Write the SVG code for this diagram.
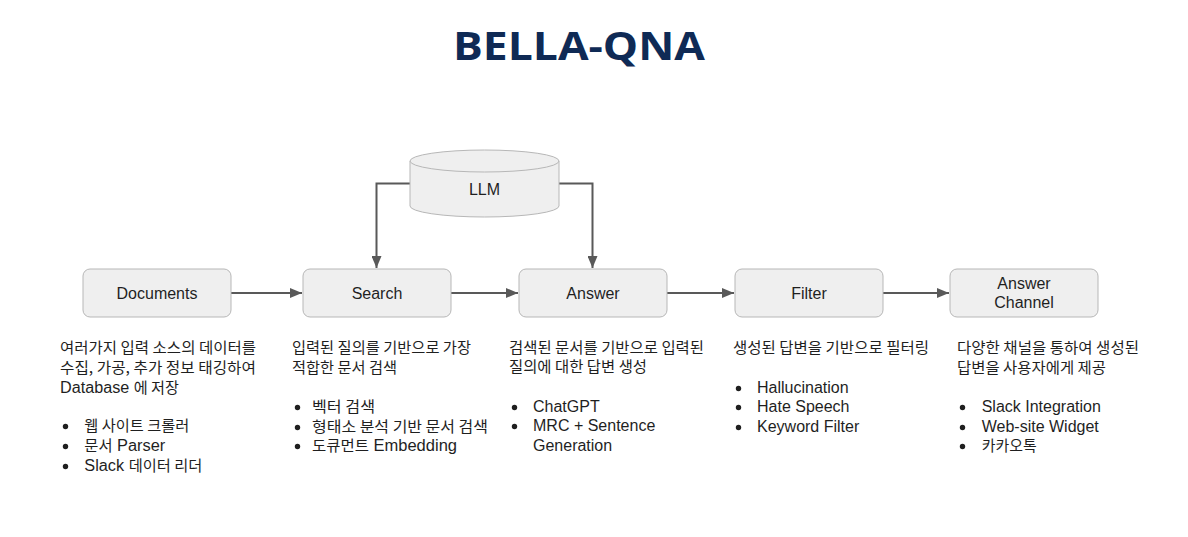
<svg xmlns="http://www.w3.org/2000/svg" width="1188" height="537" viewBox="0 0 1188 537">
<style>
.bg{fill:#ffffff}
.box{fill:#efefef;stroke:#b7b7b7;stroke-width:1}
.lbl{font-family:"Liberation Sans","Noto Sans CJK KR",Arial,sans-serif;font-size:16px;fill:#1f1f1f;text-anchor:middle}
.t{font-family:"Liberation Sans","Noto Sans CJK KR",Arial,sans-serif;font-size:16px;fill:#1f1f1f}
.k{font-family:"Noto Sans CJK KR","Liberation Sans",sans-serif;font-size:15px}
.dot{fill:#1f1f1f}
.conn{fill:none;stroke:#595959;stroke-width:2}
.title{font-family:"Open Sans","Liberation Sans",sans-serif;font-weight:700;font-size:40px;fill:#0f2a55}
</style>
<defs>
<marker id="arr" markerUnits="userSpaceOnUse" markerWidth="12" markerHeight="10" refX="12" refY="5" orient="auto">
<path d="M0,0 L12,5 L0,10 Z" fill="#595959"/>
</marker>
</defs>
<rect class="bg" x="0" y="0" width="1188" height="537"/>

<text id="title" class="title" x="453" y="60" textLength="252" lengthAdjust="spacingAndGlyphs">BELLA-QNA</text>

<g id="connectors">
<path class="conn" d="M231,293 H302" marker-end="url(#arr)"/>
<path class="conn" d="M451,293 H518" marker-end="url(#arr)"/>
<path class="conn" d="M667,293 H734" marker-end="url(#arr)"/>
<path class="conn" d="M883,293 H949" marker-end="url(#arr)"/>
<path class="conn" d="M410,183.5 H376.5 V268" marker-end="url(#arr)"/>
<path class="conn" d="M559,183.5 H592.5 V268" marker-end="url(#arr)"/>
</g>

<g id="llm">
<path class="box" d="M410,161 V206 A74.5,11 0 0 0 559,206 V161 Z"/>
<ellipse class="box" cx="484.5" cy="161" rx="74.5" ry="11"/>
<text class="lbl" x="484.5" y="195">LLM</text>
</g>

<g id="documents">
<rect class="box" x="83" y="269" width="148" height="48" rx="7"/>
<text class="lbl" x="157" y="299">Documents</text>
</g>
<g id="search">
<rect class="box" x="303" y="269" width="148" height="48" rx="7"/>
<text class="lbl" x="377" y="299">Search</text>
</g>
<g id="answer">
<rect class="box" x="519" y="269" width="148" height="48" rx="7"/>
<text class="lbl" x="593" y="299">Answer</text>
</g>
<g id="filter">
<rect class="box" x="735" y="269" width="148" height="48" rx="7"/>
<text class="lbl" x="809" y="299">Filter</text>
</g>
<g id="answer-channel">
<rect class="box" x="950" y="269" width="148" height="48" rx="7"/>
<text class="lbl" x="1024" y="289">Answer</text>
<text class="lbl" x="1024" y="308">Channel</text>
</g>

<g id="desc-documents">
<text class="t k" x="60" y="353" textLength="196" lengthAdjust="spacingAndGlyphs">여러가지 입력 소스의 데이터를</text>
<text class="t k" x="60" y="373" textLength="196" lengthAdjust="spacingAndGlyphs">수집, 가공, 추가 정보 태깅하여</text>
<text class="t" x="60" y="393" textLength="119" lengthAdjust="spacingAndGlyphs">Database <tspan class="k">에 저장</tspan></text>
<circle class="dot" cx="65.5" cy="426.5" r="2.7"/>
<text class="t k" x="84.3" y="431" textLength="105" lengthAdjust="spacingAndGlyphs">웹 사이트 크롤러</text>
<circle class="dot" cx="65.5" cy="446.5" r="2.7"/>
<text class="t" x="84.3" y="451" textLength="81" lengthAdjust="spacingAndGlyphs"><tspan class="k">문서</tspan> Parser</text>
<circle class="dot" cx="65.5" cy="466.5" r="2.7"/>
<text class="t" x="84.3" y="471" textLength="118" lengthAdjust="spacingAndGlyphs">Slack <tspan class="k">데이터 리더</tspan></text>
</g>

<g id="desc-search">
<text class="t k" x="292" y="353" textLength="179" lengthAdjust="spacingAndGlyphs">입력된 질의를 기반으로 가장</text>
<text class="t k" x="292" y="373" textLength="105" lengthAdjust="spacingAndGlyphs">적합한 문서 검색</text>
<circle class="dot" cx="297.5" cy="407.5" r="2.7"/>
<text class="t k" x="312" y="412" textLength="63" lengthAdjust="spacingAndGlyphs">벡터 검색</text>
<circle class="dot" cx="297.5" cy="427.5" r="2.7"/>
<text class="t k" x="312" y="432" textLength="176" lengthAdjust="spacingAndGlyphs">형태소 분석 기반 문서 검색</text>
<circle class="dot" cx="297.5" cy="446.5" r="2.7"/>
<text class="t" x="312" y="451" textLength="145" lengthAdjust="spacingAndGlyphs"><tspan class="k">도큐먼트</tspan> Embedding</text>
</g>

<g id="desc-answer">
<text class="t k" x="509" y="353" textLength="195" lengthAdjust="spacingAndGlyphs">검색된 문서를 기반으로 입력된</text>
<text class="t k" x="509" y="372" textLength="138" lengthAdjust="spacingAndGlyphs">질의에 대한 답변 생성</text>
<circle class="dot" cx="514.5" cy="407.5" r="2.7"/>
<text class="t" x="533" y="412">ChatGPT</text>
<circle class="dot" cx="514.5" cy="426.5" r="2.7"/>
<text class="t" x="533" y="431">MRC + Sentence</text>
<text class="t" x="533" y="451">Generation</text>
</g>

<g id="desc-filter">
<text class="t k" x="733" y="353" textLength="196" lengthAdjust="spacingAndGlyphs">생성된 답변을 기반으로 필터링</text>
<circle class="dot" cx="738.5" cy="388.5" r="2.7"/>
<text class="t" x="757" y="393">Hallucination</text>
<circle class="dot" cx="738.5" cy="407.5" r="2.7"/>
<text class="t" x="757" y="412">Hate Speech</text>
<circle class="dot" cx="738.5" cy="427.5" r="2.7"/>
<text class="t" x="757" y="432">Keyword Filter</text>
</g>

<g id="desc-channel">
<text class="t k" x="957" y="353" textLength="182" lengthAdjust="spacingAndGlyphs">다양한 채널을 통하여 생성된</text>
<text class="t k" x="957" y="373" textLength="149" lengthAdjust="spacingAndGlyphs">답변을 사용자에게 제공</text>
<circle class="dot" cx="962.5" cy="407.5" r="2.7"/>
<text class="t" x="981.7" y="412">Slack Integration</text>
<circle class="dot" cx="962.5" cy="427.5" r="2.7"/>
<text class="t" x="981.7" y="432">Web-site Widget</text>
<circle class="dot" cx="962.5" cy="446.5" r="2.7"/>
<text class="t k" x="981.7" y="451" textLength="55" lengthAdjust="spacingAndGlyphs">카카오톡</text>
</g>
</svg>
